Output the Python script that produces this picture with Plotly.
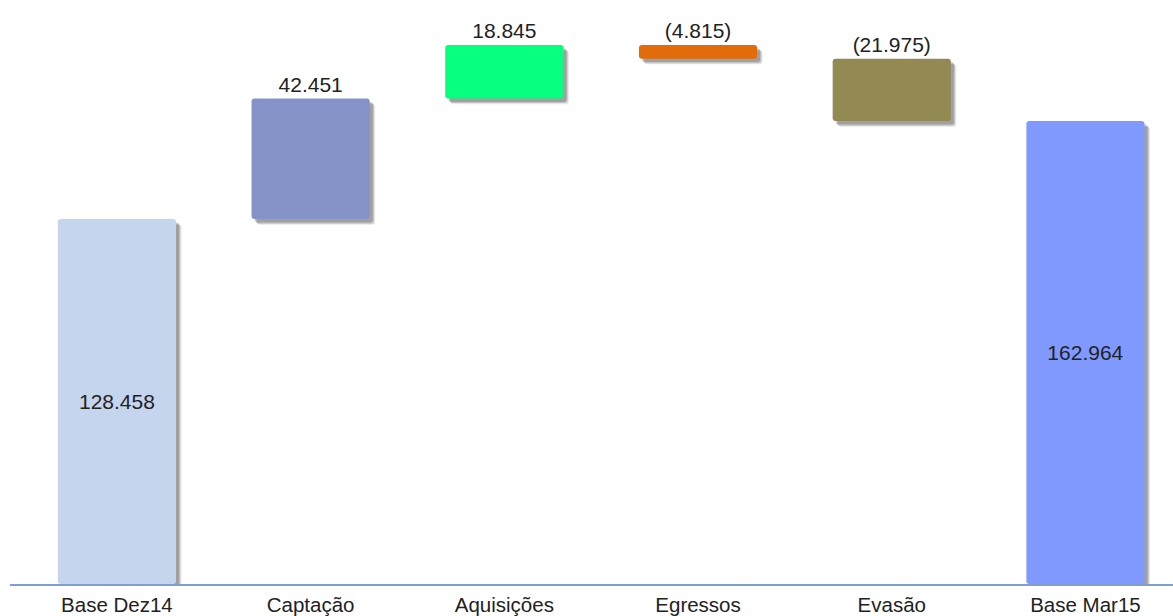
import plotly.graph_objects as go

categories = ["Base Dez14", "Captação", "Aquisições", "Egressos", "Evasão", "Base Mar15"]
values = [128.458, 42.451, 18.845, -4.815, -21.975, 162.964]
kinds = ["total", "delta", "delta", "delta", "delta", "total"]
colors = ["#c6d5ee", "#8592c8", "#06ff7e", "#e36c0a", "#938953", "#8099fe"]

# compute bar bases / heights
bases, heights, texts, positions = [], [], [], []
running = 0.0
for v, k in zip(values, kinds):
    if k == "total":
        bases.append(0.0)
        heights.append(v)
        running = v
        positions.append("inside")
    else:
        new = running + v
        bases.append(min(running, new))
        heights.append(abs(v))
        running = new
        positions.append("outside")
    s = f"{abs(v):.3f}"
    texts.append(f"({s})" if v < 0 else s)

W = 0.61
px_per_unit = 2.86
BOTTOM = 28
FONT = "Liberation Sans, Arial"
fig = go.Figure()

# soft shadows
for dx, dy, a in [(0.028, 2.0, 0.10), (0.022, 1.6, 0.14), (0.016, 1.2, 0.18)]:
    fig.add_trace(go.Bar(
        x=categories, y=heights, base=[b - dy for b in bases],
        width=W, offset=-W / 2 + dx,
        marker=dict(color=f"rgba(0,0,0,{a})", line=dict(width=0), cornerradius=3),
        hoverinfo="skip", showlegend=False,
    ))

fig.add_trace(go.Bar(
    x=categories, y=heights, base=bases,
    width=W, offset=-W / 2,
    marker=dict(color=colors, line=dict(width=0), cornerradius=3),
    text=texts, textposition=positions, insidetextanchor="middle",
    textfont=dict(family=FONT, size=21, color="#222222"),
    outsidetextfont=dict(family=FONT, size=21, color="#222222"),
    insidetextfont=dict(family=FONT, size=21, color="#222222"),
    cliponaxis=False, showlegend=False,
))

fig.update_layout(
    width=1173, height=616,
    margin=dict(l=10, r=0, t=0, b=BOTTOM),
    paper_bgcolor="white", plot_bgcolor="white",
    barmode="overlay",
    uniformtext=dict(mode=False),
    xaxis=dict(
        type="category", range=[-0.552, 5.452],
        showline=True, linecolor="#7f9fcf", linewidth=2,
        showgrid=False, ticks="", ticklabelstandoff=1,
        tickfont=dict(family=FONT, size=20.5, color="#222222"),
    ),
    yaxis=dict(range=[0, (616 - BOTTOM) / px_per_unit], visible=False, showgrid=False, zeroline=False),
)

fig.write_html(
    "out.html",
    config={"displayModeBar": False},
    post_script="document.body.style.margin='0';document.body.style.overflow='hidden';",
)
